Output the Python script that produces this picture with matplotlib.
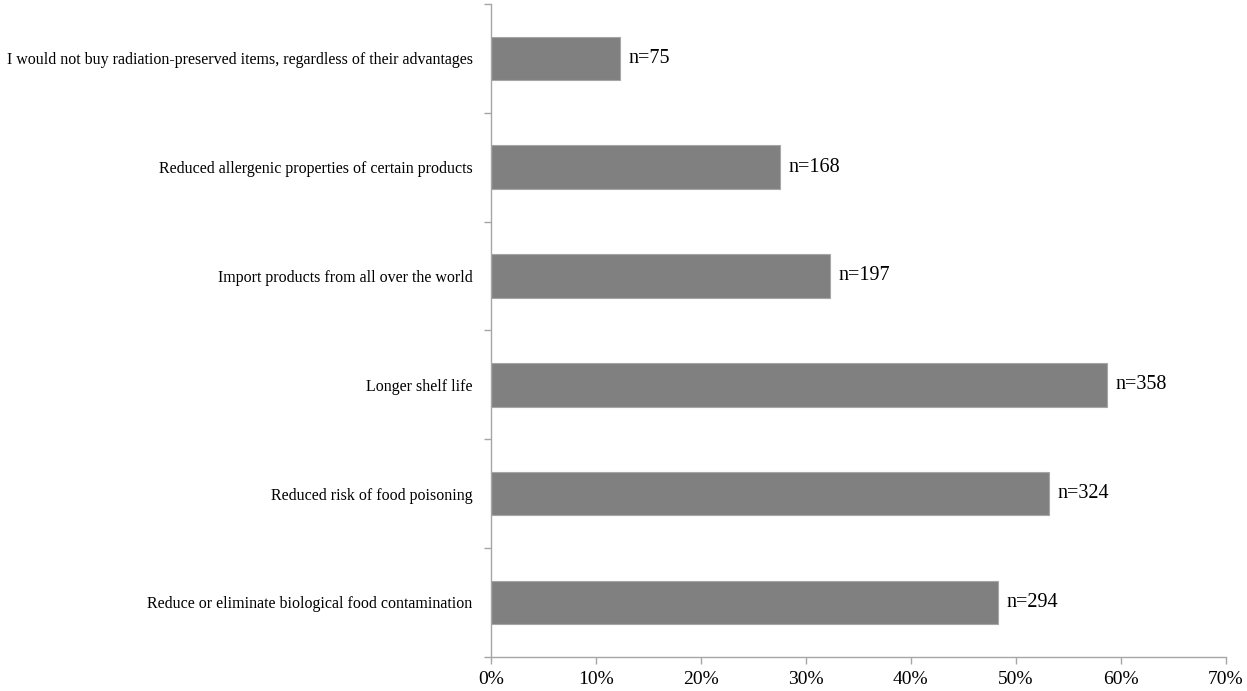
import numpy as np
import matplotlib.pyplot as plt

# categories listed bottom to top
categories = [
    "Reduce or eliminate biological food contamination",
    "Reduced risk of food poisoning",
    "Longer shelf life",
    "Import products from all over the world",
    "Reduced allergenic properties of certain products",
    "I would not buy radiation-preserved items, regardless of their advantages",
]
percent = [48.3, 53.2, 58.7, 32.3, 27.6, 12.3]
counts = [294, 324, 358, 197, 168, 75]
xticks = [0, 10, 20, 30, 40, 50, 60, 70]

plt.rcParams['font.family'] = ['Liberation Serif', 'DejaVu Serif']

fig = plt.figure(figsize=(12.47, 6.91), dpi=100)
ax = fig.add_axes([0.3935, 0.0496, 0.5894, 0.9446])

y = np.arange(len(categories))
ax.barh(y, percent, height=0.4, color='#808080', edgecolor='#a6a6a6', linewidth=0.8)

for yi, p, n in zip(y, percent, counts):
    ax.annotate("n=%d" % n, (p, yi), xytext=(6, 0), textcoords='offset points',
                va='center', ha='left', fontsize=14.5)

ax.set_xlim(0, 70)
ax.set_ylim(-0.5, len(categories) - 0.5)
ax.set_xticks(xticks)
ax.set_xticklabels(["%d%%" % t for t in xticks], fontsize=14)

ax.set_yticks(y)
ax.set_yticklabels(categories, fontsize=11.5)
ax.set_yticks(np.arange(-0.5, len(categories)), minor=True)
ax.tick_params(axis='y', which='major', length=0, pad=13)
ax.tick_params(axis='y', which='minor', length=5, color='#a6a6a6', width=1)
ax.tick_params(axis='x', length=5, color='#a6a6a6', width=1, pad=5)

for side in ['top', 'right']:
    ax.spines[side].set_visible(False)
for side in ['left', 'bottom']:
    ax.spines[side].set_color('#a6a6a6')
    ax.spines[side].set_linewidth(1)

fig.savefig('out.png', dpi=100)
